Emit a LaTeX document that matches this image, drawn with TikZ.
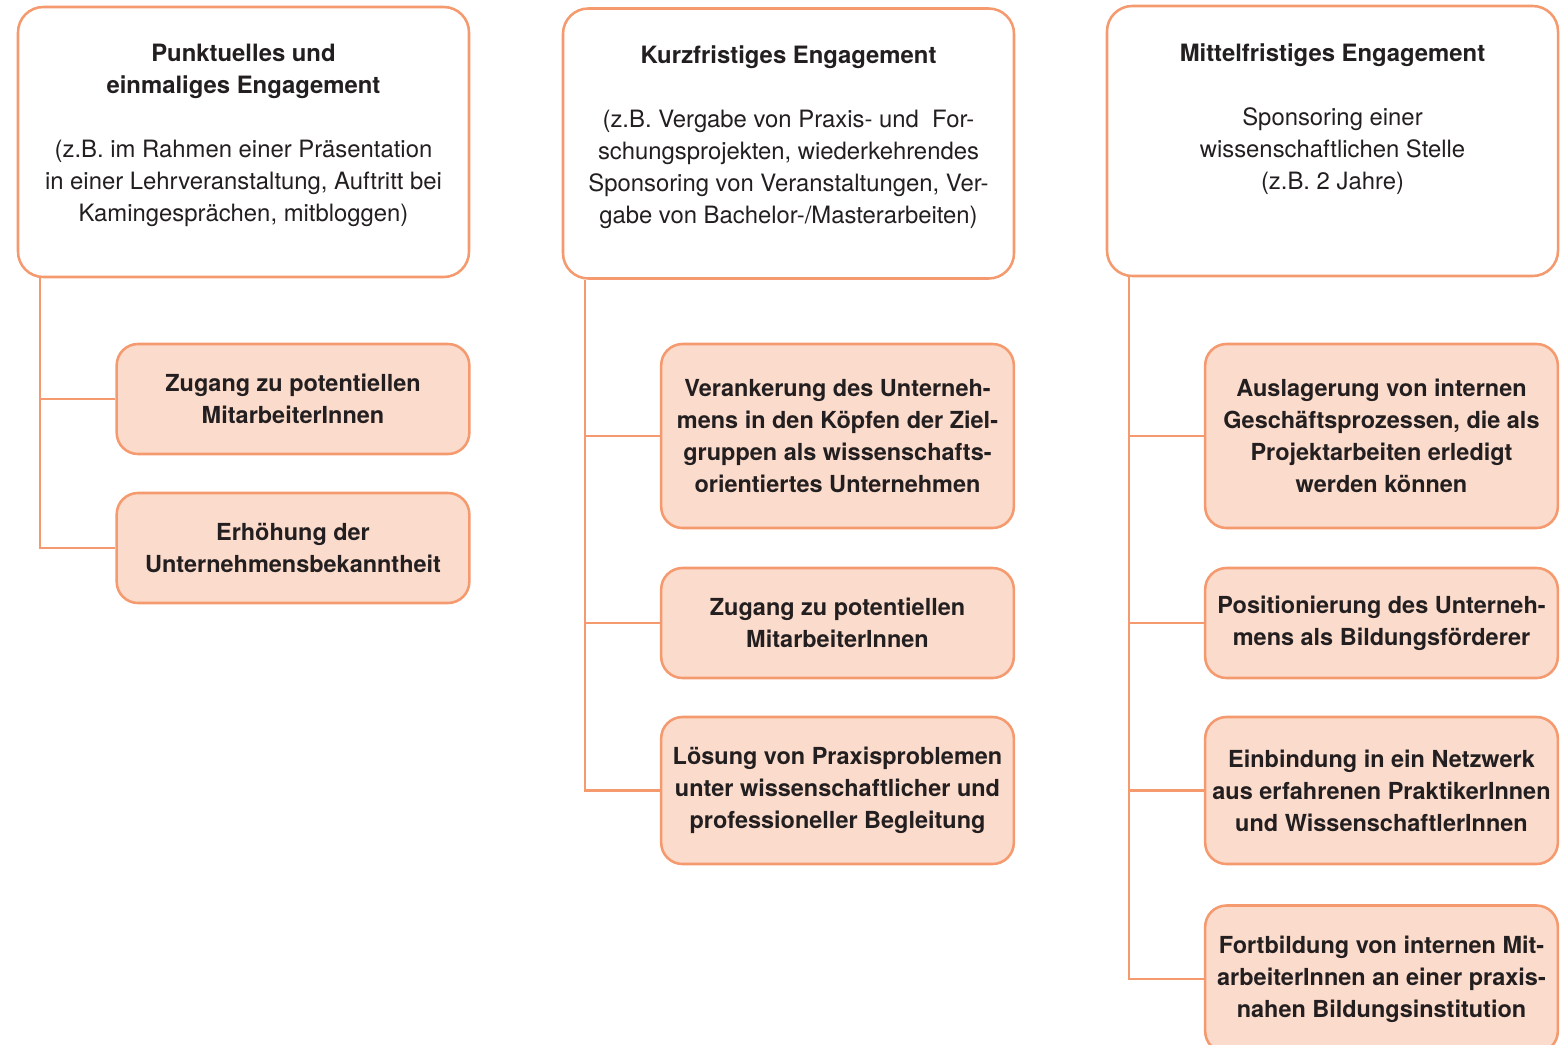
\documentclass[tikz,border=0pt]{standalone}
\usepackage{fontspec}
\setmainfont{TeX Gyre Heros}
\definecolor{strokeC}{HTML}{F59A6E}
\definecolor{fillC}{HTML}{FBDBCB}
\definecolor{txtC}{HTML}{231F20}
\begin{document}
\begin{tikzpicture}[x=0.75pt,y=-0.75pt,
  every node/.style={text=txtC},
  headbox/.style={draw=strokeC,line width=1.9pt,fill=white,rounded corners=19pt,
    minimum width=338.25pt,minimum height=202.5pt,inner sep=0pt},
  headtext/.style={anchor=north,align=center,inner sep=0pt,font=\fontsize{17.9}{24}\selectfont},
  subbox/.style={draw=strokeC,line width=1.9pt,fill=fillC,rounded corners=16pt,
    minimum width=264.5pt,inner sep=0pt,align=center,
    font=\fontsize{17.6}{24}\selectfont\bfseries},
  conn/.style={draw=strokeC,line width=1.9pt}]
\useasboundingbox[fill=white] (0,0) rectangle (1566,1045);

% headers
\node[headbox] (h1) at (243.5,142) {};
\node[headbox] (h2) at (788.5,143.5) {};
\node[headbox] (h3) at (1332.5,141) {};
\node[headtext] (h1t) at (243.5,44) {\textbf{Punktuelles und}\\\textbf{einmaliges Engagement}\\[24pt]
(z.B. im Rahmen einer Präsentation\\in einer Lehrveranstaltung, Auftritt bei\\Kamingesprächen, mitbloggen)};
\node[headtext] (h2t) at (788.5,45) {\textbf{Kurzfristiges Engagement}\\[24pt]
(z.B. Vergabe von Praxis- und\ \ For-\\schungsprojekten, wiederkehrendes\\Sponsoring von Veranstaltungen, Ver-\\gabe von Bachelor-/Masterarbeiten)};
\node[headtext] (h3t) at (1332.5,43) {\textbf{Mittelfristiges Engagement}\\[24pt]
Sponsoring einer\\wissenschaftlichen Stelle\\(z.B. 2 Jahre)};

% column 1
\node[subbox,minimum height=82.5pt] (a1) at (293,399) {Zugang zu potentiellen\\MitarbeiterInnen};
\node[subbox,minimum height=82.5pt] (a2) at (293,548) {Erhöhung der\\Unternehmensbekanntheit};

% column 2
\node[subbox,minimum height=138pt] (b1) at (837.5,436) {Verankerung des Unterneh-\\mens in den Köpfen der Ziel-\\gruppen als wissenschafts-\\orientiertes Unternehmen};
\node[subbox,minimum height=82.5pt] (b2) at (837.5,623) {Zugang zu potentiellen\\MitarbeiterInnen};
\node[subbox,minimum height=110.25pt] (b3) at (837.5,790.5) {Lösung von Praxisproblemen\\unter wissenschaftlicher und\\professioneller Begleitung};

% column 3
\node[subbox,minimum height=138pt] (c1) at (1381.5,436) {Auslagerung von internen\\Geschäftsprozessen, die als\\Projektarbeiten erledigt\\werden können};
\node[subbox,minimum height=82.5pt] (c2) at (1381.5,623) {Positionierung des Unterneh-\\mens als Bildungsförderer};
\node[subbox,minimum height=110.25pt] (c3) at (1381.5,790.5) {Einbindung in ein Netzwerk\\aus erfahrenen PraktikerInnen\\und WissenschaftlerInnen};
\node[subbox,minimum height=110.25pt] (c4) at (1381.5,979) {Fortbildung von internen Mit-\\arbeiterInnen an einer praxis-\\nahen Bildungsinstitution};

% connectors
\coordinate (s1) at ([xshift=17.5pt]h1.south west);
\coordinate (s2) at ([xshift=17.5pt]h2.south west);
\coordinate (s3) at ([xshift=17.5pt]h3.south west);
\draw[conn] (s1) |- (a2.west);
\draw[conn] (a1.west -| s1) -- (a1.west);
\draw[conn] (s2) |- (b3.west);
\draw[conn] (b1.west -| s2) -- (b1.west);
\draw[conn] (b2.west -| s2) -- (b2.west);
\draw[conn] (s3) |- (c4.west);
\draw[conn] (c1.west -| s3) -- (c1.west);
\draw[conn] (c2.west -| s3) -- (c2.west);
\draw[conn] (c3.west -| s3) -- (c3.west);
\end{tikzpicture}
\end{document}
